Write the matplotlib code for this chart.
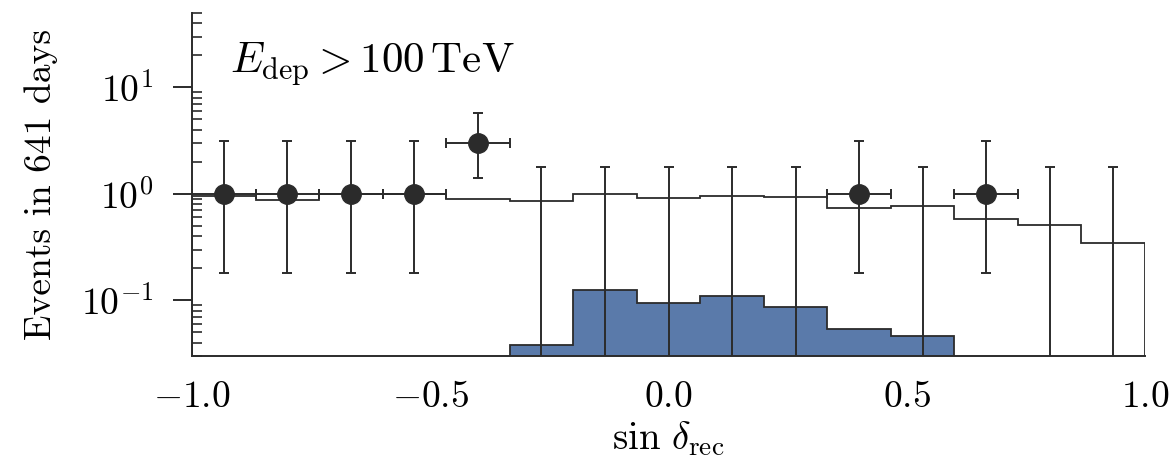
import numpy as np
import matplotlib
matplotlib.use("Agg")
import matplotlib.pyplot as plt
from matplotlib.ticker import FixedLocator, FuncFormatter, LogLocator, NullFormatter

plt.rcParams["mathtext.fontset"] = "cm"
plt.rcParams["font.family"] = ["cmr10", "DejaVu Serif"]
plt.rcParams["axes.formatter.use_mathtext"] = True

# 15 equal bins in sin(declination)
bin_edges = np.linspace(-1.0, 1.0, 16)
bin_centers = 0.5 * (bin_edges[:-1] + bin_edges[1:])

# expected background per bin
background = [0.96, 0.88, 0.99, 1.0, 0.90, 0.866, 1.0, 0.91, 0.95, 0.944,
              0.74, 0.77, 0.58, 0.505, 0.346]
# expected signal per bin
signal = [0, 0, 0, 0, 0, 0.0382, 0.125, 0.095, 0.111, 0.087,
          0.0536, 0.0464, 0, 0, 0]
# observed events per bin
observed = [1, 1, 1, 1, 3, 0, 0, 0, 0, 0, 1, 0, 1, 0, 0]
# 68% interval on the observed counts
err_low = [0.18, 0.18, 0.18, 0.18, 1.40, 0, 0, 0, 0, 0, 0.18, 0, 0.18, 0, 0]
err_high = [3.15, 3.15, 3.15, 3.15, 5.8, 1.78, 1.78, 1.78, 1.78, 1.78,
            3.15, 1.78, 3.15, 1.78, 1.78]

dark = "#2b2b2b"
blue = "#5a7aaa"

fig = plt.figure(figsize=(11.74, 4.68), dpi=100)
ax = fig.add_axes([192 / 1174, 1 - 356 / 468, (1145 - 192) / 1174, (356 - 13) / 468])

ax.set_xlim(-1.0, 1.0)
ax.set_yscale("log")
ax.set_ylim(0.03, 50)

# signal histogram (filled)
ax.stairs(signal, bin_edges, fill=True, facecolor=blue, edgecolor="none",
          baseline=1e-4, zorder=1)
ax.stairs(signal, bin_edges, fill=False, edgecolor=dark, linewidth=1.3,
          baseline=1e-4, zorder=2)
# background histogram (outline)
ax.stairs(background, bin_edges, fill=False, edgecolor=dark, linewidth=1.3,
          baseline=1e-4, zorder=2)

obs = np.array(observed, dtype=float)
lo = np.array(err_low)
hi = np.array(err_high)
half_w = 0.5 * np.diff(bin_edges)

nz = obs > 0
ax.errorbar(bin_centers[nz], obs[nz],
            yerr=[obs[nz] - lo[nz], hi[nz] - obs[nz]],
            xerr=half_w[nz], fmt="o", color=dark, ms=14,
            elinewidth=1.4, capsize=3.6, capthick=1.4, zorder=4)

# empty bins: upper limits drawn from the bottom of the axis
zero = ~nz
ax.errorbar(bin_centers[zero], np.full(zero.sum(), 1e-3),
            yerr=[np.zeros(zero.sum()), hi[zero] - 1e-3],
            fmt="none", ecolor=dark, elinewidth=1.4, capsize=3.6,
            capthick=1.4, zorder=3)

# axes styling
for side in ("top", "right"):
    ax.spines[side].set_visible(False)
for side in ("left", "bottom"):
    ax.spines[side].set_linewidth(1.4)
    ax.spines[side].set_color(dark)

ax.xaxis.set_major_locator(FixedLocator([-1.0, -0.5, 0.0, 0.5, 1.0]))
ax.xaxis.set_major_formatter(FuncFormatter(lambda v, p: r"$%.1f$" % v))
ax.tick_params(axis="x", length=0, pad=18, labelsize=27)

ax.yaxis.set_major_locator(FixedLocator([0.1, 1.0, 10.0]))
ax.yaxis.set_major_formatter(FuncFormatter(
    lambda v, p: r"$10^{%d}$" % int(round(np.log10(v)))))
ax.yaxis.set_minor_locator(LogLocator(base=10, subs=np.arange(2, 10), numticks=20))
ax.yaxis.set_minor_formatter(NullFormatter())
ax.tick_params(axis="y", which="major", direction="out", length=14,
               width=1.4, color=dark, labelsize=27, pad=14)
ax.tick_params(axis="y", which="minor", direction="in", length=7,
               width=1.2, color=dark)

ax.set_xlabel(r"$\sin\,\delta_{\mathrm{rec}}$", fontsize=28, labelpad=4)
ax.set_ylabel("Events in 641 days", fontsize=27, labelpad=16)

ax.text(0.04, 0.92, r"$E_{\mathrm{dep}} > 100\,\mathrm{TeV}$",
        transform=ax.transAxes, fontsize=31, va="top", ha="left")

fig.savefig("out.png", dpi=100)
